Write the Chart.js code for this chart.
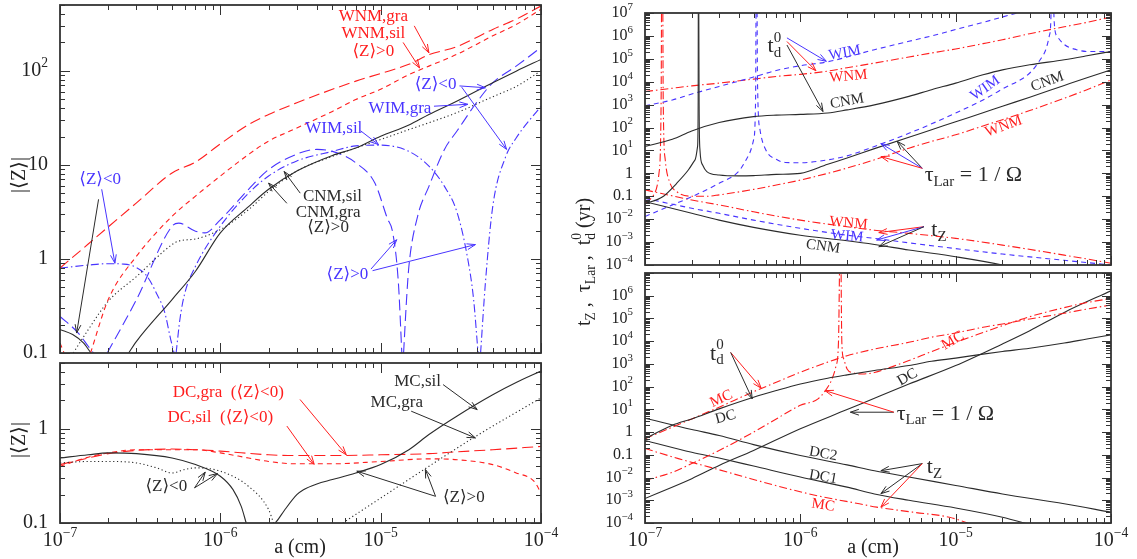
<!DOCTYPE html>
<html>
<head>
<meta charset="utf-8">
<title>Grain charge and timescales</title>
<script src="https://cdn.jsdelivr.net/npm/chart.js@4.4.0/dist/chart.umd.min.js"></script>
<style>
  body { margin: 0; background: #fff; width: 1137px; height: 559px; position: relative; overflow: hidden; }
  canvas { position: absolute; }
</style>
</head>
<body>
<canvas id="lt" width="560" height="360" style="left:0;top:0"></canvas>
<canvas id="lb" width="560" height="201" style="left:0;top:358px"></canvas>
<canvas id="rt" width="577" height="270" style="left:560px;top:0"></canvas>
<canvas id="rb" width="577" height="291" style="left:560px;top:268px"></canvas>
<canvas id="ytitle" width="44" height="330" style="left:563px;top:100px"></canvas>

<script>
// ---- data ----
const aStd = [1e-7,1.5e-7,2e-7,3e-7,5e-7,7e-7,1e-6,1.5e-6,2e-6,3e-6,5e-6,7e-6,1e-5,1.5e-5,2e-5,3e-5,5e-5,7e-5,1e-4];

// top left: |<Z>| for CNM / WNM / WIM
const wnmGraZ = [0.80,1.44,2.19,3.94,8.2,10.7,16.7,26.8,34.3,45.7,63.5,77.6,93.6,117,148,181,275,353,487];
const wnmSilA = [1.55e-7,2e-7,3e-7,5e-7,7e-7,1e-6,1.5e-6,2e-6,3e-6,5e-6,7e-6,1e-5,1.5e-5,2e-5,3e-5,5e-5,7e-5,1e-4];
const wnmSilZ = [0.1,0.37,1.07,2.84,4.65,7.6,12.9,17.9,24.6,37,49.5,63.5,91,112,150,235,310,450];
const wnmSilNegA = [1e-7,1.06e-7];
const wnmSilNegZ = [0.128,0.1];
const cnmSilA = [2.68e-7,3e-7,5e-7,7e-7,1e-6,1.5e-6,2e-6,3e-6,5e-6,7e-6,1e-5,1.5e-5,2e-5,3e-5,5e-5,7e-5,1e-4];
const cnmSilZ = [0.1,0.133,0.37,0.74,1.89,3.6,5.5,8.6,12.6,15.1,20.1,26.5,34.3,47.6,74.5,99,132];
const cnmSilNegA = [1e-7,1.2e-7,1.4e-7,1.56e-7];
const cnmSilNegZ = [0.178,0.157,0.128,0.1];
const cnmGraA = [1.21e-7,1.5e-7,2e-7,3e-7,5e-7,5.5e-7,7e-7,1e-6,1.5e-6,2e-6,3e-6,5e-6,7e-6,1e-5,1.5e-5,2e-5,3e-5,5e-5,7e-5,1e-4];
const cnmGraZ = [0.1,0.177,0.355,0.65,1.42,1.55,1.63,2.05,3.34,5.2,8.6,12.3,15.1,18.6,23.7,28,36,53,68,100];
const wimGraA = [1.97e-7,3e-7,5e-7,5.5e-7,7e-7,8e-7,1e-6,1.5e-6,2e-6,3e-6,4e-6,5e-6,7e-6,9.2e-6,1.1e-5,1.19e-5,1.29e-5,1.355e-5];
const wimGraZ = [0.1,0.37,2.23,2.4,1.97,1.89,2.6,5.5,8.9,13,14.6,13.9,10.5,6.4,2.7,1.89,0.556,0.1];
const wimGra2A = [1.39e-5,1.45e-5,1.5e-5,1.7e-5,2e-5,2.5e-5,3e-5,4e-5,5e-5,7e-5,1e-4];
const wimGra2Z = [0.1,0.37,0.835,2.84,5.9,14.6,23,47,74.5,112,177];
const wimGraNegA = [1e-7,1.3e-7,1.5e-7,1.62e-7];
const wimGraNegZ = [0.245,0.163,0.118,0.1];
const wimSil1A = [1e-7,1.5e-7,2e-7,2.5e-7,3e-7,3.5e-7,4e-7,4.5e-7,4.9e-7,5.15e-7];
const wimSil1Z = [0.80,0.86,0.89,0.88,0.81,0.65,0.43,0.27,0.14,0.1];
const wimSil2A = [5.3e-7,5.6e-7,6e-7,7e-7,1e-6,1.5e-6,2e-6,3e-6,5e-6,7e-6,1e-5,1.5e-5,2e-5,2.5e-5,3e-5,3.5e-5,3.8e-5,4.05e-5];
const wimSil2Z = [0.1,0.23,0.43,0.835,2.23,5.0,7.6,11,13.9,15.9,16.2,13.9,9.7,5.9,3.1,0.98,0.37,0.1];
const wimSil3A = [4.2e-5,4.5e-5,5e-5,6e-5,7e-5,1e-4];
const wimSil3Z = [0.1,0.556,3.6,12,19.3,42];

// bottom left: |<Z>| for DC / MC
const mcSil1A = [1e-7,1.5e-7,2e-7,3e-7,5e-7,7e-7,1e-6,1.2e-6,1.35e-6,1.45e-6];
const mcSil1Z = [0.49,0.53,0.555,0.545,0.49,0.417,0.314,0.226,0.15,0.1];
const mcSil2A = [2.2e-6,2.3e-6,2.5e-6,3e-6,3.3e-6,4e-6,5e-6,7e-6,1e-5,1.5e-5,2e-5,3e-5,5e-5,7e-5,1e-4];
const mcSil2Z = [0.1,0.11,0.135,0.2,0.226,0.26,0.289,0.34,0.417,0.6,0.87,1.37,2.3,3.1,4.1];
const mcGra1A = [1e-7,1.5e-7,2e-7,3e-7,4e-7,5e-7,6e-7,7e-7,1e-6,1.5e-6,2e-6,2.15e-6];
const mcGra1Z = [0.434,0.45,0.45,0.434,0.385,0.34,0.37,0.385,0.355,0.245,0.139,0.1];
const mcGra2A = [5.8e-6,1e-5,2e-5,4e-5,1e-4];
const mcGra2Z = [0.1,0.184,0.4,0.85,2.13];
const dcGraA = [1e-7,1.5e-7,2e-7,3e-7,5e-7,7e-7,1e-6,2e-6,3e-6,5e-6,1e-5,2e-5,3e-5,5e-5,1e-4];
const dcGraZ = [0.417,0.49,0.545,0.59,0.61,0.6,0.58,0.53,0.52,0.52,0.53,0.545,0.57,0.6,0.65];
const dcSilA = [1e-7,1.5e-7,2e-7,3e-7,5e-7,7e-7,1e-6,1.5e-6,2e-6,3e-6,5e-6,1e-5,2e-5,3e-5,5e-5,7e-5,9e-5,1e-4];
const dcSilZ = [0.4,0.5,0.555,0.6,0.6,0.6,0.555,0.49,0.45,0.425,0.425,0.45,0.48,0.47,0.417,0.34,0.28,0.21];

// top right: timescales (yr) for CNM / WIM / WNM
const cnmTd = [15,31,71,165,300,350,375,430,590,980,2.3e3,4.5e3,8.7e3,2e4,3.3e4,5.5e4,9.1e4,1.35e5,2.1e5];
const cnmLar1A = [1e-7,1.3e-7,1.6e-7,1.9e-7,2.1e-7,2.18e-7,2.2e-7,2.205e-7];
const cnmLar1T = [0.047,0.095,0.37,1.4,3.9,15,1.6e3,1e9];
const cnmLar2A = [2.215e-7,2.23e-7,2.26e-7,2.35e-7,2.5e-7,3e-7,4e-7,5e-7,7e-7,1e-6,1.5e-6,2e-6,3e-6,5e-6,7e-6,1e-5,1.5e-5,2e-5,3e-5,5e-5,7e-5,1e-4];
const cnmLar2T = [1e9,1e3,10,2.3,1.2,0.85,0.78,0.8,0.9,1.0,2.5,4.7,12,38,80,180,440,850,2.1e3,6.9e3,1.5e4,3.3e4];
const cnmTzA = [1e-7,2e-7,3e-7,5e-7,1e-6,2e-6,3e-6,5e-6,1e-5,2e-5,3e-5];
const cnmTz = [0.058,0.018,9.1e-3,4.4e-3,2e-3,1.15e-3,7.9e-4,4.5e-4,2.3e-4,1e-4,5e-5];
const wimTdA = [1e-7,1.5e-7,2e-7,3e-7,5e-7,7e-7,1e-6,1.5e-6,2e-6,3e-6,5e-6,7e-6,1e-5,1.5e-5,2e-5,3e-5];
const wimTd = [890,1.6e3,2.9e3,6.2e3,1.6e4,3.1e4,5e4,7.4e4,1.2e5,2.5e5,5.8e5,1e6,1.9e6,3.9e6,6.7e6,1.4e7];
const wimLar1A = [1e-7,1.5e-7,2e-7,3e-7,4e-7,4.6e-7,5e-7,5.15e-7,5.2e-7];
const wimLar1T = [0.013,0.042,0.095,0.37,1.2,5.4,29,1.6e3,1e9];
const wimLar2A = [5.25e-7,5.3e-7,5.5e-7,6e-7,7e-7,8e-7,1e-6,1.5e-6,2e-6,3e-6,5e-6,7e-6,1e-5,1.5e-5,2e-5,3e-5,3.5e-5,3.8e-5,4e-5,4.1e-5,4.15e-5];
const wimLar2T = [1e9,1e4,80,10.5,4.1,3.0,2.9,3.9,5.8,15,56,145,430,1.6e3,4.8e3,2.4e4,9.1e4,2.5e5,9.6e5,5e6,1e9];
const wimLar3A = [4.25e-5,4.3e-5,4.5e-5,5e-5,6e-5,7e-5,1e-4];
const wimLar3T = [1e9,5e6,9.6e5,4.2e5,2.5e5,2.1e5,2.1e5];
const wimTzA = [1e-7,2e-7,3e-7,5e-7,1e-6,2e-6,3e-6,5e-6,1e-5,2e-5,5e-5,1e-4];
const wimTz = [0.081,0.03,0.018,9.1e-3,4e-3,2e-3,1.45e-3,9.3e-4,5.2e-4,3e-4,1.6e-4,1e-4];
const wnmTd = [3.7e3,5.2e3,6.6e3,8.7e3,1.3e4,1.7e4,2.1e4,2.9e4,4.1e4,6.5e4,1.2e5,1.8e5,2.7e5,4.6e5,6.8e5,1.25e6,2.5e6,3.9e6,6.7e6];
const wnmLar1A = [1e-7,1.15e-7,1.23e-7,1.27e-7,1.28e-7];
const wnmLar1T = [0.049,0.13,1,1.6e3,1e9];
const wnmLar2A = [1.3e-7,1.31e-7,1.35e-7,1.45e-7,1.6e-7,2e-7,2.5e-7,3e-7,5e-7,7e-7,1e-6,1.5e-6,2e-6,3e-6,5e-6,7e-6,1e-5,1.5e-5,2e-5,3e-5,5e-5,7e-5,1e-4];
const wnmLar2T = [1e9,1.6e3,3.9,0.37,0.16,0.1,0.1,0.115,0.2,0.31,0.51,1.0,1.7,3.9,12.6,25,48,118,220,550,1.9e3,4.5e3,1.2e4];
const wnmTzA = [1e-7,2e-7,3e-7,5e-7,1e-6,2e-6,3e-6,5e-6,1e-5,2e-5,5e-5,1e-4];
const wnmTz = [0.19,0.069,0.042,0.021,9.1e-3,4.7e-3,3.3e-3,2.4e-3,1.45e-3,7.4e-4,2.7e-4,1.2e-4];

// bottom right: timescales (yr) for DC / MC
const dcTd = [0.51,2.0,3.8,10.5,34,67,130,235,330,510,850,1.3e3,1.8e3,2.7e3,3.5e3,4.9e3,8.3e3,1.25e4,1.9e4];
const mcTd = [0.51,1.65,3.8,12.5,60,155,430,1.2e3,2.3e3,4.5e3,8.9e3,1.5e4,2.3e4,4.1e4,5.7e4,9.5e4,1.7e5,2.6e5,3.9e5];
const mcLar1A = [1e-7,1.5e-7,2e-7,3e-7,5e-7,7e-7,1e-6,1.3e-6,1.45e-6,1.6e-6,1.7e-6,1.76e-6,1.8e-6];
const mcLar1T = [7.4e-3,0.017,0.041,0.155,1.0,3.8,15,29,67,220,850,8.9e3,1e9];
const mcLar2A = [1.82e-6,1.85e-6,1.9e-6,2e-6,2.2e-6,2.5e-6,3e-6,4e-6,5e-6,7e-6,1e-5,1.5e-5,2e-5,3e-5,5e-5,7e-5,1e-4];
const mcLar2T = [1e9,9e3,1.7e3,600,400,360,420,800,1.4e3,3.5e3,8.9e3,2.4e4,4.8e4,1.2e5,3e5,5e5,7.6e5];
const dcLarA = [1e-7,2e-7,3e-7,5e-7,1e-6,2e-6,3e-6,5e-6,1e-5,2e-5,3e-5,5e-5,1e-4];
const dcLar = [1.2e-3,8.9e-3,0.034,0.155,1.4,9.8,31,130,850,7.6e3,2.9e4,1.85e5,1.65e6];
const tzA = [1e-7,2e-7,3e-7,5e-7,1e-6,2e-6,3e-6,5e-6,1e-5,2e-5,5e-5,1e-4];
const dc2Tz = [4.1,1.3,0.71,0.28,0.093,0.036,0.02,0.0105,4.5e-3,1.9e-3,7e-4,3e-4];
const dc1TzA = [1e-7,2e-7,3e-7,5e-7,1e-6,2e-6,3e-6,5e-6,1e-5,2e-5,3e-5];
const dc1Tz = [0.43,0.13,0.072,0.032,0.0105,3.8e-3,1.9e-3,1e-3,4.6e-4,1.8e-4,8.7e-5];
const mcTzA = [1e-7,1.64e-7,2.8e-7,4.8e-7,8.2e-7,1.4e-6,2.4e-6,3.1e-6,5.3e-6,9.1e-6,1.2e-5];
const mcTz = [0.19,0.068,0.025,8.9e-3,3.3e-3,1.4e-3,7e-4,5e-4,3e-4,1.8e-4,1e-4];

// tick labels
const xTickVals = [1e-7,1e-6,1e-5,1e-4];
const xTickText = ['10^{−7}','10^{−6}','10^{−5}','10^{−4}'];
const ltYTickVals = [0.1,1,10,100];
const ltYTickText = ['0.1','1','10','10^{2}'];
const lbYTickVals = [0.1,1];
const lbYTickText = ['0.1','1'];
const rtYTickVals = [1e-4,1e-3,1e-2,0.1,1,10,100,1e3,1e4,1e5,1e6,1e7];
const rtYTickText = ['10^{−4}','10^{−3}','10^{−2}','0.1','1','10^{1}','10^{2}','10^{3}','10^{4}','10^{5}','10^{6}','10^{7}'];
const rbYTickVals = rtYTickVals.slice(0, 11);
const rbYTickText = rtYTickText.slice(0, 11);

// ---- drawing ----
const FONT = '"Liberation Serif","DejaVu Serif","DejaVu Sans",serif';
const RED = 'rgb(255,30,30)', BLUE = 'rgb(72,52,255)', BLACK = '#2b2b2b';
const LONG = [11, 5], SHORT = [5, 4], DOT = [1.2, 2.6], DOTDASH = [8, 3, 1.5, 3];

function line(a, y, color, dash) {
  return {
    data: a.map((v, i) => ({ x: v, y: y[i] })),
    borderColor: color, borderDash: dash || [], borderWidth: 1.1,
    pointRadius: 0, fill: false, cubicInterpolationMode: 'monotone', clip: 0
  };
}

function parseRich(str) {
  const parts = [];
  let i = 0;
  while (i < str.length) {
    if ((str[i] === '_' || str[i] === '^') && str[i + 1] === '{') {
      const end = str.indexOf('}', i);
      parts.push({ t: str.slice(i + 2, end), k: str[i] });
      i = end + 1;
    } else {
      let j = i;
      while (j < str.length && !((str[j] === '_' || str[j] === '^') && str[j + 1] === '{')) j++;
      parts.push({ t: str.slice(i, j), k: '' });
      i = j;
    }
  }
  return parts;
}

function rich(ctx, str, x, y, o) {
  const size = o.size || 17;
  const small = size * 0.68;
  const laid = [];
  let cx = 0, lastSub = null;
  for (const p of parseRich(str)) {
    const fs = p.k ? small : size;
    ctx.font = fs + 'px ' + FONT;
    const w = ctx.measureText(p.t).width;
    const dy = p.k === '_' ? size * 0.3 : p.k === '^' ? -size * 0.38 : 0;
    if (p.k === '^' && lastSub) {
      laid.push({ t: p.t, fs, x: lastSub.x, dy });
      cx = Math.max(cx, lastSub.x + w);
      lastSub = null;
      continue;
    }
    laid.push({ t: p.t, fs, x: cx, dy });
    lastSub = p.k === '_' ? laid[laid.length - 1] : null;
    cx += w;
  }
  const off = o.align === 'right' ? -cx : o.align === 'left' ? 0 : -cx / 2;
  ctx.save();
  ctx.translate(x, y);
  if (o.rot) ctx.rotate(o.rot * Math.PI / 180);
  ctx.fillStyle = o.color || BLACK;
  ctx.textBaseline = 'middle';
  ctx.textAlign = 'left';
  for (const p of laid) {
    ctx.font = p.fs + 'px ' + FONT;
    ctx.fillText(p.t, off + p.x, p.dy);
  }
  ctx.restore();
}

function arrow(ctx, x1, y1, x2, y2, color) {
  const ang = Math.atan2(y2 - y1, x2 - x1), len = 9, spread = 0.33;
  ctx.save();
  ctx.strokeStyle = color;
  ctx.lineWidth = 1;
  ctx.setLineDash([]);
  ctx.beginPath();
  ctx.moveTo(x1, y1); ctx.lineTo(x2, y2);
  ctx.moveTo(x2 - len * Math.cos(ang - spread), y2 - len * Math.sin(ang - spread));
  ctx.lineTo(x2, y2);
  ctx.lineTo(x2 - len * Math.cos(ang + spread), y2 - len * Math.sin(ang + spread));
  ctx.stroke();
  ctx.restore();
}

function logTicks(min, max) {
  const out = [];
  for (let d = Math.floor(Math.log10(min)); d <= Math.ceil(Math.log10(max)); d++) {
    for (let k = 1; k <= 9; k++) {
      const v = k * Math.pow(10, d);
      if (v >= min * 0.999 && v <= max * 1.001) out.push({ v, major: k === 1 });
    }
  }
  return out;
}

const deco = {};

const framePlugin = {
  id: 'frame',
  afterDraw(chart) {
    const d = deco[chart.canvas.id];
    const ctx = chart.ctx, A = chart.chartArea;
    const xs = chart.scales.x, ys = chart.scales.y;
    ctx.save();
    // ticks on all four sides, pointing inwards
    ctx.strokeStyle = '#333';
    ctx.lineWidth = 1;
    ctx.beginPath();
    for (const t of logTicks(xs.min, xs.max)) {
      const px = Math.round(xs.getPixelForValue(t.v)) + 0.5;
      const L = t.major ? d.major : d.minor;
      ctx.moveTo(px, A.bottom); ctx.lineTo(px, A.bottom - L);
      ctx.moveTo(px, A.top); ctx.lineTo(px, A.top + L);
    }
    for (const t of logTicks(ys.min, ys.max)) {
      const py = Math.round(ys.getPixelForValue(t.v)) + 0.5;
      const L = t.major ? d.major : d.minor;
      ctx.moveTo(A.left, py); ctx.lineTo(A.left + L, py);
      ctx.moveTo(A.right, py); ctx.lineTo(A.right - L, py);
    }
    ctx.stroke();
    ctx.lineWidth = 1.8;
    ctx.strokeRect(A.left, A.top, A.right - A.left, A.bottom - A.top);
    ctx.restore();

    // tick labels
    d.yVals.forEach((v, i) => rich(ctx, d.yText[i], A.left - d.yGap, ys.getPixelForValue(v), { size: d.ySize, align: 'right', color: '#222' }));
    if (d.xVals) d.xVals.forEach((v, i) => rich(ctx, d.xText[i], xs.getPixelForValue(v), A.bottom + 18, { size: 20, color: '#222' }));
    if (d.xTitle) rich(ctx, d.xTitle, d.xTitlePos[0], d.xTitlePos[1], { size: 20, color: '#222' });
    if (d.yTitle) rich(ctx, d.yTitle, d.yTitlePos[0], d.yTitlePos[1], { size: 20, color: '#222', rot: -90 });

    // annotations
    for (const a of d.arrows) {
      arrow(ctx, xs.getPixelForValue(a[0]), ys.getPixelForValue(a[1]), xs.getPixelForValue(a[2]), ys.getPixelForValue(a[3]), a[4]);
    }
    for (const t of d.texts) {
      rich(ctx, t.t, xs.getPixelForValue(t.x), ys.getPixelForValue(t.y), { size: t.s || 17, color: t.c, rot: t.r || 0 });
    }
  }
};

function makeChart(id, datasets, yMin, yMax, g) {
  return new Chart(document.getElementById(id), {
    type: 'line',
    data: { datasets },
    options: {
      responsive: false,
      animation: false,
      events: [],
      layout: { padding: { top: g.top, right: g.right, left: 0, bottom: 0 } },
      plugins: { legend: { display: false }, tooltip: { enabled: false } },
      scales: {
        x: {
          type: 'logarithmic', min: 1e-7, max: 1e-4,
          grid: { display: false }, border: { display: false }, ticks: { display: false },
          afterFit: s => { s.height = g.bottom; }
        },
        y: {
          type: 'logarithmic', min: yMin, max: yMax,
          grid: { display: false }, border: { display: false }, ticks: { display: false },
          afterFit: s => { s.width = g.left; }
        }
      }
    },
    plugins: [framePlugin]
  });
}

// ---- top left ----
deco.lt = {
  major: 10, minor: 5, yVals: ltYTickVals, yText: ltYTickText, ySize: 20, yGap: 12,
  yTitle: '|⟨Z⟩|', yTitlePos: [20, 175],
  texts: [
    { t: 'WNM,gra', x: 9e-6, y: 376, c: RED },
    { t: 'WNM,sil', x: 9e-6, y: 250, c: RED },
    { t: '⟨Z⟩>0', x: 9e-6, y: 162, c: RED },
    { t: 'WIM,gra', x: 1.32e-5, y: 40, c: BLUE },
    { t: '⟨Z⟩<0', x: 2.2e-5, y: 72, c: BLUE },
    { t: 'WIM,sil', x: 5.1e-6, y: 24.6, c: BLUE },
    { t: 'CNM,sil', x: 5e-6, y: 4.6, c: BLACK },
    { t: 'CNM,gra', x: 4.7e-6, y: 3.1, c: BLACK },
    { t: '⟨Z⟩>0', x: 4.7e-6, y: 2.14, c: BLACK },
    { t: '⟨Z⟩<0', x: 1.78e-7, y: 7.0, c: BLUE },
    { t: '⟨Z⟩>0', x: 6.2e-6, y: 0.68, c: BLUE }
  ],
  arrows: [
    [1.62e-5, 300, 2e-5, 155, RED],
    [1.38e-5, 200, 1.75e-5, 107, RED],
    [2.15e-5, 42, 3.5e-5, 44, BLUE],
    [3.1e-5, 69, 4.5e-5, 66, BLUE],
    [3.2e-5, 67, 6.1e-5, 14.6, BLUE],
    [7.5e-6, 23, 9.7e-6, 16.4, BLUE],
    [3.15e-6, 5.0, 2.5e-6, 8.5, BLACK],
    [2.6e-6, 3.9, 2.0e-6, 6.4, BLACK],
    [1.82e-7, 5.5, 2.2e-7, 0.9, BLUE],
    [1.74e-7, 4.3, 1.27e-7, 0.163, BLACK],
    [8.7e-6, 0.78, 1.26e-5, 1.6, BLUE],
    [8.9e-6, 0.75, 3.9e-5, 1.42, BLUE]
  ]
};
makeChart('lt', [
  line(aStd, wnmGraZ, RED, LONG),
  line(wnmSilA, wnmSilZ, RED, SHORT),
  line(wnmSilNegA, wnmSilNegZ, RED, SHORT),
  line(cnmSilA, cnmSilZ, BLACK),
  line(cnmSilNegA, cnmSilNegZ, BLACK),
  line(cnmGraA, cnmGraZ, BLACK, DOT),
  line(wimGraA, wimGraZ, BLUE, LONG),
  line(wimGra2A, wimGra2Z, BLUE, LONG),
  line(wimGraNegA, wimGraNegZ, BLUE, LONG),
  line(wimSil1A, wimSil1Z, BLUE, DOTDASH),
  line(wimSil2A, wimSil2Z, BLUE, DOTDASH),
  line(wimSil3A, wimSil3Z, BLUE, DOTDASH)
], 0.1, 500, { top: 5, right: 19, left: 60, bottom: 7 });

// ---- bottom left ----
deco.lb = {
  major: 10, minor: 5, yVals: lbYTickVals, yText: lbYTickText, ySize: 20, yGap: 12,
  xVals: xTickVals, xText: xTickText,
  xTitle: 'a (cm)', xTitlePos: [300, 190],
  yTitle: '|⟨Z⟩|', yTitlePos: [20, 82],
  texts: [
    { t: 'DC,gra  (⟨Z⟩<0)', x: 1.12e-6, y: 2.45, c: RED },
    { t: 'DC,sil  (⟨Z⟩<0)', x: 1e-6, y: 1.31, c: RED },
    { t: 'MC,sil', x: 1.7e-5, y: 3.2, c: BLACK },
    { t: 'MC,gra', x: 1.26e-5, y: 1.9, c: BLACK },
    { t: '⟨Z⟩<0', x: 4.6e-7, y: 0.245, c: BLACK },
    { t: '⟨Z⟩>0', x: 3.3e-5, y: 0.185, c: BLACK }
  ],
  arrows: [
    [3.14e-6, 2.05, 6.1e-6, 0.53, RED],
    [2.6e-6, 1.07, 3.85e-6, 0.42, RED],
    [2.45e-5, 2.95, 4e-5, 1.6, BLACK],
    [1.55e-5, 1.54, 3.9e-5, 0.8, BLACK],
    [6.9e-7, 0.236, 8.05e-7, 0.347, BLACK],
    [6.9e-7, 0.236, 9.6e-7, 0.335, BLACK],
    [2.2e-5, 0.192, 7.1e-6, 0.355, BLACK],
    [2.2e-5, 0.192, 1.9e-5, 0.37, BLACK]
  ]
};
makeChart('lb', [
  line(mcSil1A, mcSil1Z, BLACK),
  line(mcSil2A, mcSil2Z, BLACK),
  line(mcGra1A, mcGra1Z, BLACK, DOT),
  line(mcGra2A, mcGra2Z, BLACK, DOT),
  line(dcGraA, dcGraZ, RED, LONG),
  line(dcSilA, dcSilZ, RED, SHORT)
], 0.1, 5, { top: 5, right: 19, left: 60, bottom: 36 });

// ---- top right ----
deco.rt = {
  major: 9, minor: 5, yVals: rtYTickVals, yText: rtYTickText, ySize: 16, yGap: 12,
  texts: [
    { t: 't_{d}^{0}', x: 6.8e-7, y: 3.5e5, c: BLACK, s: 22 },
    { t: 'WIM', x: 1.93e-6, y: 1.8e5, c: BLUE, s: 15, r: -10 },
    { t: 'WNM', x: 2.04e-6, y: 1.7e4, c: RED, s: 15, r: -5 },
    { t: 'CNM', x: 2e-6, y: 1.4e3, c: BLACK, s: 15, r: -10 },
    { t: 'WIM', x: 1.55e-5, y: 5.2e3, c: BLUE, s: 15, r: -35 },
    { t: 'CNM', x: 3.9e-5, y: 1e4, c: BLACK, s: 15, r: -20 },
    { t: 'WNM', x: 2.04e-5, y: 110, c: RED, s: 15, r: -20 },
    { t: 'τ_{Lar} = 1 / Ω', x: 1.3e-5, y: 0.85, c: BLACK, s: 22 },
    { t: 't_{Z}', x: 7.8e-6, y: 3.3e-3, c: BLACK, s: 22 },
    { t: 'WNM', x: 2.04e-6, y: 6.6e-3, c: RED, s: 15, r: 5 },
    { t: 'WIM', x: 2.0e-6, y: 1.8e-3, c: BLUE, s: 15, r: 5 },
    { t: 'CNM', x: 1.4e-6, y: 6.3e-4, c: BLACK, s: 15, r: 8 }
  ],
  arrows: [
    [8.2e-7, 8.2e5, 1.47e-6, 7.8e4, BLUE],
    [8.2e-7, 5.7e5, 1.26e-6, 3e4, RED],
    [8.2e-7, 4e5, 1.4e-6, 500, BLACK],
    [6.1e-6, 1.66, 4.2e-6, 25, BLACK],
    [6.1e-6, 1.66, 3.3e-6, 20, BLUE],
    [6.1e-6, 1.66, 3.3e-6, 5.4, RED],
    [6.25e-6, 4.7e-3, 3.2e-6, 2.6e-3, RED],
    [6.25e-6, 4.7e-3, 3.1e-6, 1.23e-3, BLUE],
    [6.25e-6, 4.7e-3, 3.2e-6, 6.3e-4, BLACK]
  ]
};
makeChart('rt', [
  line(aStd, cnmTd, BLACK),
  line(cnmLar1A, cnmLar1T, BLACK),
  line(cnmLar2A, cnmLar2T, BLACK),
  line(cnmTzA, cnmTz, BLACK),
  line(wimTdA, wimTd, BLUE, SHORT),
  line(wimLar1A, wimLar1T, BLUE, SHORT),
  line(wimLar2A, wimLar2T, BLUE, SHORT),
  line(wimLar3A, wimLar3T, BLUE, SHORT),
  line(wimTzA, wimTz, BLUE, SHORT),
  line(aStd, wnmTd, RED, DOTDASH),
  line(wnmLar1A, wnmLar1T, RED, DOTDASH),
  line(wnmLar2A, wnmLar2T, RED, DOTDASH),
  line(wnmTzA, wnmTz, RED, DOTDASH)
], 1e-4, 1e7, { top: 13, right: 26, left: 85, bottom: 5 });

// ---- bottom right ----
deco.rb = {
  major: 9, minor: 5, yVals: rbYTickVals, yText: rbYTickText, ySize: 16, yGap: 12,
  xVals: xTickVals, xText: xTickText,
  xTitle: 'a (cm)', xTitlePos: [313, 280],
  texts: [
    { t: 't_{d}^{0}', x: 2.9e-7, y: 2.8e3, c: BLACK, s: 22 },
    { t: 'MC', x: 3.1e-7, y: 29, c: RED, s: 15, r: -25 },
    { t: 'DC', x: 3.3e-7, y: 4.6, c: BLACK, s: 15, r: -15 },
    { t: 'DC', x: 4.9e-6, y: 260, c: BLACK, s: 15, r: -30 },
    { t: 'MC', x: 9.6e-6, y: 1.05e4, c: RED, s: 15, r: -30 },
    { t: 'τ_{Lar} = 1 / Ω', x: 8.6e-6, y: 6.3, c: BLACK, s: 22 },
    { t: 't_{Z}', x: 7.3e-6, y: 0.029, c: BLACK, s: 22 },
    { t: 'DC2', x: 1.4e-6, y: 0.11, c: BLACK, s: 15, r: 10 },
    { t: 'DC1', x: 1.4e-6, y: 0.0105, c: BLACK, s: 15, r: 10 },
    { t: 'MC', x: 1.4e-6, y: 6e-4, c: RED, s: 15, r: 8 }
  ],
  arrows: [
    [3.56e-7, 3.2e3, 5.6e-7, 85, RED],
    [3.56e-7, 3.2e3, 4.9e-7, 29, BLACK],
    [4e-6, 7.5, 2.1e-6, 7.5, BLACK],
    [4e-6, 7.5, 1.44e-6, 67, RED],
    [6.1e-6, 0.041, 3.3e-6, 0.02, BLACK],
    [6.1e-6, 0.041, 3.3e-6, 1.95e-3, BLACK],
    [6.1e-6, 0.041, 3.3e-6, 5e-4, RED]
  ]
};
makeChart('rb', [
  line(aStd, dcTd, BLACK),
  line(aStd, mcTd, RED, DOTDASH),
  line(mcLar1A, mcLar1T, RED, DOTDASH),
  line(mcLar2A, mcLar2T, RED, DOTDASH),
  line(dcLarA, dcLar, BLACK),
  line(tzA, dc2Tz, BLACK),
  line(dc1TzA, dc1Tz, BLACK),
  line(mcTzA, mcTz, RED, DOTDASH)
], 1e-4, 1e7, { top: 5, right: 26, left: 85, bottom: 36 });

// shared y title of the right column
const yt = document.getElementById('ytitle').getContext('2d');
rich(yt, 't_{Z} ,  τ_{Lar} ,  t_{d}^{0} (yr)', 22, 162, { size: 20, color: '#222', rot: -90 });
</script>
</body>
</html>
